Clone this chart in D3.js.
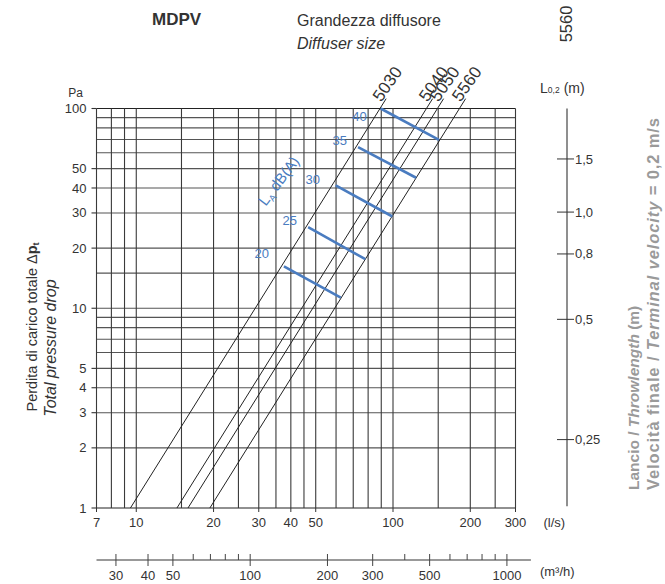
<!DOCTYPE html>
<html><head><meta charset="utf-8">
<script src="https://cdn.jsdelivr.net/npm/d3@7"></script>
<style>body{margin:0;background:#fff} svg{display:block;font-family:"Liberation Sans",Arial,sans-serif}</style>
</head><body><svg id="c" width="665" height="584"></svg>
<script>
// ---- data ----
const flowGrid = [7,8,9,10,15,20,25,30,35,40,45,50,60,70,80,90,100,150,200,250,300];
const flowTicks = [7,10,20,30,40,50,100,200,300];
const pressureGrid = [1,2,3,4,5,6,7,8,9,10,15,20,30,40,50,60,70,80,90,100];
const pressureTicks = [1,2,3,4,5,10,20,30,40,50,100];
const m3hMajor = [30,40,50,100,200,300,500,1000];
const m3hMinor = [60,70,80,90,400,600,700,800,900];
const m3hExtent = [25.2,1240];
const sizes = ["5030","5040","5050","5560"];
const sizeFlowAt1Pa = [9.49,14.4,15.9,19.35];
const sizeFlowAt100Pa = [89.0,135,149,181.5];
const soundLevels = [20,25,30,35,40];
const soundStartFlow = [37.6,46.7,59.8,73.1,89.5];
const soundStartP = [16.2,25.5,41.2,64,100];
const soundEndFlow = [62.6,78,99.4,123,151];
const soundEndP = [11.3,17.6,28.8,45,69.7];
const soundLabelFlow = [30.8,39.6,48.7,62,74.1];
const soundLabelP = [18.7,27.4,43.9,68.8,91];
const throwTicks = ["1,5","1,0","0,8","0,5","0,25"];
const throwAtP = [55.9,30.3,18.7,8.8,2.2];
const throwAxisP = [1.02,100];

// ---- scales ----
const x = d3.scaleLog().domain([7,300]).range([96.5,515.5]);
const y = d3.scaleLog().domain([1,100]).range([508,108.5]);
const xm = d3.scaleLog().domain([7*3.6,300*3.6]).range(x.range());

const svg = d3.select("#c");
const dark = "#333", blue = "#4a7cc0";

// grid
const g = svg.append("g");
g.selectAll(".h").data(pressureGrid).join("line")
  .attr("x1", x(7)).attr("x2", x(300))
  .attr("y1", d=>y(d)).attr("y2", d=>y(d))
  .attr("stroke", d=> (d===1||d===100)?"#222":"#555").attr("stroke-width",1.1);
g.selectAll(".v").data(flowGrid).join("line")
  .attr("x1", d=>x(d)).attr("x2", d=>x(d))
  .attr("y1", y(1)).attr("y2", y(100))
  .attr("stroke", "#3a3a3a").attr("stroke-width",1.1);

// left ticks + labels
g.selectAll(".lt").data(pressureTicks).join("line")
  .attr("x1", x(7)-5).attr("x2", x(7)).attr("y1", d=>y(d)).attr("y2", d=>y(d))
  .attr("stroke","#333").attr("stroke-width",1.1);
g.selectAll(".ll").data(pressureTicks).join("text")
  .attr("x", x(7)-10).attr("y", d=>y(d)).attr("dy","0.35em")
  .attr("text-anchor","end").attr("font-size",13).attr("fill",dark).text(d=>d);
// bottom labels
g.selectAll(".bt").data(flowTicks).join("line")
  .attr("x1", d=>x(d)).attr("x2", d=>x(d)).attr("y1", y(1)).attr("y2", y(1)+4)
  .attr("stroke","#333");
g.selectAll(".bl").data(flowTicks).join("text")
  .attr("x", d=>x(d)).attr("y", y(1)+19)
  .attr("text-anchor","middle").attr("font-size",13).attr("fill",dark).text(d=>d);
svg.append("text").attr("x", x(300)+28).attr("y", y(1)+19).attr("font-size",13).attr("fill",dark).text("(l/s)");
svg.append("text").attr("x", x(7)-21).attr("y", y(100)-12).attr("text-anchor","middle").attr("font-size",12).attr("fill",dark).text("Pa");

// m3/h axis
const my = 560;
svg.append("line").attr("x1", xm(m3hExtent[0])).attr("x2", xm(m3hExtent[1])).attr("y1",my).attr("y2",my)
  .attr("stroke","#777").attr("stroke-width",1.6);
svg.selectAll(".mM").data(m3hMajor).join("line")
  .attr("x1", d=>xm(d)).attr("x2", d=>xm(d)).attr("y1", my-6).attr("y2", my+6).attr("stroke","#444");
svg.selectAll(".mm").data(m3hMinor).join("line")
  .attr("x1", d=>xm(d)).attr("x2", d=>xm(d)).attr("y1", my-6).attr("y2", my).attr("stroke","#444");
svg.selectAll(".ml").data(m3hMajor).join("text")
  .attr("x", d=>xm(d)).attr("y", my+20).attr("text-anchor","middle").attr("font-size",13).attr("fill",dark).text(d=>d);
svg.append("text").attr("x", xm(m3hExtent[1])+9).attr("y", my+16).attr("font-size",13).attr("fill",dark)
  .text("(m³/h)");

// diffuser size lines
const flowAt = (i,p) => sizeFlowAt1Pa[i]*Math.pow(sizeFlowAt100Pa[i]/sizeFlowAt1Pa[i], Math.log10(p)/2);
const line = d3.line().x(d=>x(d[0])).y(d=>y(d[1]));
sizes.forEach((s,i)=>{
  const pts = [[flowAt(i,1),1],[flowAt(i,112),112]];
  svg.append("path").attr("d", line(pts)).attr("fill","none").attr("stroke","#222").attr("stroke-width",1);
  const ex = x(pts[1][0]), ey = y(pts[1][1]);
  svg.append("text").attr("transform",`translate(${ex-5},${ey+4}) rotate(-55)`)
    .attr("font-size",17).attr("fill",dark).text(s);
});

// sound level lines
soundLevels.forEach((lv,i)=>{
  svg.append("line")
    .attr("x1", x(soundStartFlow[i])).attr("y1", y(soundStartP[i]))
    .attr("x2", x(soundEndFlow[i])).attr("y2", y(soundEndP[i]))
    .attr("stroke", blue).attr("stroke-width",2.6);
  svg.append("text").attr("x", x(soundLabelFlow[i])).attr("y", y(soundLabelP[i])).attr("dy","0.35em")
    .attr("text-anchor","middle").attr("font-size",13).attr("fill",blue).text(lv);
});
const la = svg.append("text").attr("transform",`translate(${x(31.4)+2},${y(32.2)}) rotate(-53)`)
  .attr("font-size",15).attr("fill",blue);
la.append("tspan").text("L");
la.append("tspan").attr("font-size",9).attr("dy",3).text("A");
la.append("tspan").attr("dy",-3).text(" dB(A)");

// throw axis
const tx = 567;
svg.append("line").attr("x1",tx).attr("x2",tx).attr("y1",y(throwAxisP[1])).attr("y2",y(throwAxisP[0]))
  .attr("stroke","#333").attr("stroke-width",1.1);
svg.selectAll(".tt").data(throwAtP).join("line")
  .attr("x1",tx-10).attr("x2",tx+7).attr("y1",d=>y(d)).attr("y2",d=>y(d)).attr("stroke","#333");
svg.selectAll(".tl").data(throwAtP).join("text")
  .attr("x",tx+8).attr("y",d=>y(d)).attr("dy","0.35em").attr("font-size",13).attr("fill",dark)
  .text((d,i)=>throwTicks[i]);
const lt = svg.append("text").attr("x",540).attr("y",y(100)-16).attr("font-size",14).attr("fill",dark);
lt.append("tspan").text("L");
lt.append("tspan").attr("font-size",8.5).text("0,2");
lt.append("tspan").attr("dx",4).text("(m)");

// titles
svg.append("text").attr("x",152).attr("y",25).attr("font-size",17).attr("font-weight","bold").attr("fill","#333").text("MDPV");
svg.append("text").attr("x",297).attr("y",26).attr("font-size",16).attr("fill","#333").text("Grandezza diffusore");
svg.append("text").attr("x",297).attr("y",49).attr("font-size",16).attr("font-style","italic").attr("fill","#333").text("Diffuser size");
svg.append("text").attr("transform","translate(572,24) rotate(-90)").attr("text-anchor","middle")
  .attr("font-size",16.5).attr("fill","#333").text("5560");

// left axis title
const t1 = svg.append("text").attr("transform","translate(37,327) rotate(-90)").attr("text-anchor","middle")
  .attr("font-size",14.5).attr("fill","#333");
t1.append("tspan").text("Perdita di carico totale  Δ");
t1.append("tspan").attr("font-weight","bold").text("p");
t1.append("tspan").attr("font-weight","bold").attr("font-size",9).attr("dy",2).text("t");
svg.append("text").attr("transform","translate(56,348) rotate(-90)").attr("text-anchor","middle")
  .attr("font-size",16).attr("font-style","italic").attr("fill","#333").text("Total pressure drop");

// right titles
const r1 = svg.append("text").attr("transform","translate(639,490) rotate(-90)")
  .attr("font-size",15.5).attr("font-weight","bold").attr("fill","#9a9a9a");
r1.append("tspan").text("Lancio / ");
r1.append("tspan").attr("font-style","italic").text("Throwlength");
r1.append("tspan").text(" (m)");
const r2 = svg.append("text").attr("transform","translate(659,490) rotate(-90)")
  .attr("font-size",16.5).attr("font-weight","bold").attr("fill","#9a9a9a")
  .attr("textLength",372).attr("lengthAdjust","spacing");
r2.append("tspan").text("Velocità finale / ");
r2.append("tspan").attr("font-style","italic").text("Terminal velocity");
r2.append("tspan").text(" = 0,2 m/s");
</script></body></html>
